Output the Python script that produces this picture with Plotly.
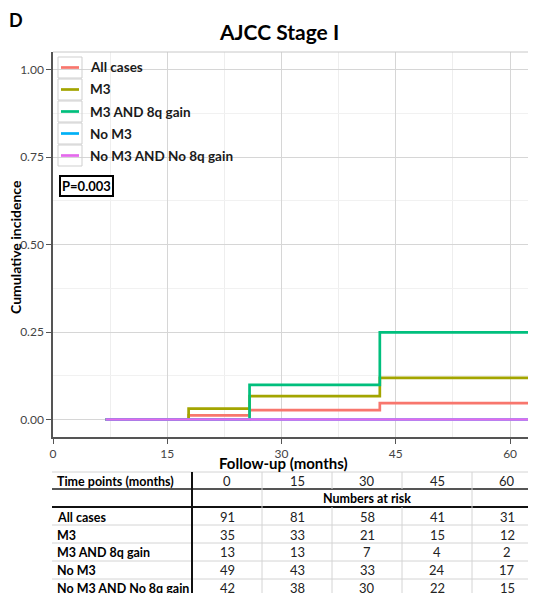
import plotly.graph_objects as go

# ---------------- data ----------------
series_names = ["All cases", "M3", "M3 AND 8q gain", "No M3", "No M3 AND No 8q gain"]
series_colors = ["#F8766D", "#A3A500", "#00BF7D", "#00B0F6", "#E46AEC"]

all_t = [6.9, 17.8, 25.8, 42.9, 62.9, 66.0]
all_y = [0.0, 0.012, 0.027, 0.047, 0.074, 0.074]

m3_t = [6.9, 17.8, 25.8, 42.9, 66.0]
m3_y = [0.0, 0.031, 0.067, 0.119, 0.119]

m3_8q_t = [6.9, 25.8, 42.9, 66.0]
m3_8q_y = [0.0, 0.099, 0.249, 0.249]

nom3_t = [6.9, 62.9, 66.0]
nom3_y = [0.0, 0.057, 0.057]

nom3_no8q_t = [6.9, 66.0]
nom3_no8q_y = [0.0, 0.0]

series_t = [all_t, m3_t, m3_8q_t, nom3_t, nom3_no8q_t]
series_y = [all_y, m3_y, m3_8q_y, nom3_y, nom3_no8q_y]

x_ticks = [0, 15, 30, 45, 60]
y_ticks = [0, 0.25, 0.5, 0.75, 1.0]
y_ticktext = ["0.00", "0.25", "0.50", "0.75", "1.00"]

p_value_text = "P=0.003"

table_timepoints = ["0", "15", "30", "45", "60"]
risk_all = [91, 81, 58, 41, 31]
risk_m3 = [35, 33, 21, 15, 12]
risk_m3_8q = [13, 13, 7, 4, 2]
risk_nom3 = [49, 43, 33, 24, 17]
risk_nom3_no8q = [42, 38, 30, 22, 15]
risk_rows = [risk_all, risk_m3, risk_m3_8q, risk_nom3, risk_nom3_no8q]

# ---------------- layout helpers ----------------
# the page body has an 8px margin, so the figure is placed at (8, 8)
OFF = 8
W, H = 536 - OFF, 593 - OFF
FONT = "Lato"
def px(x):
    return (x - OFF) / W
def py(y):
    return 1 - (y - OFF) / H

fig = go.Figure()
for name, color, t, y in zip(series_names, series_colors, series_t, series_y):
    fig.add_trace(go.Scatter(x=t, y=y, mode="lines", name=name,
                             line=dict(color=color, width=2.7, shape="hv"),
                             showlegend=False, hoverinfo="skip"))

shapes = []
annotations = []

# panel top border
shapes.append(dict(type="line", xref="paper", yref="paper", x0=px(53), x1=px(540),
                   y0=py(52), y1=py(52), line=dict(color="#c8c8c8", width=1)))

# manual legend
leg_rows = [57, 79, 101, 123, 145]
for i, (name, color) in enumerate(zip(series_names, series_colors)):
    top = leg_rows[i]
    bot = top + 21
    shapes.append(dict(type="rect", xref="paper", yref="paper", x0=px(58), x1=px(82),
                       y0=py(bot), y1=py(top), line=dict(color="#cfcfcf", width=1),
                       fillcolor="rgba(255,255,255,0)"))
    yc = (top + bot) / 2
    shapes.append(dict(type="line", xref="paper", yref="paper", x0=px(61), x1=px(79),
                       y0=py(yc), y1=py(yc), line=dict(color=color, width=2.7)))
    annotations.append(dict(xref="paper", yref="paper", x=px(88), y=py(yc), text="<b>%s</b>" % name,
                            showarrow=False, xanchor="left", yanchor="middle",
                            font=dict(family=FONT, size=13.5, color="#1a1a1a")))

# p-value box
annotations.append(dict(xref="paper", yref="paper", x=px(86), y=py(186), text="<b>%s</b>" % p_value_text,
                        showarrow=False, xanchor="center", yanchor="middle",
                        bordercolor="#000000", borderwidth=2, borderpad=1, bgcolor="white",
                        font=dict(family=FONT, size=13, color="#000000")))

# titles
annotations.append(dict(xref="paper", yref="paper", x=px(279), y=py(32), text="<b>AJCC Stage I</b>",
                        showarrow=False, xanchor="center", yanchor="middle",
                        font=dict(family=FONT, size=21, color="#000000")))
annotations.append(dict(xref="paper", yref="paper", x=px(16), y=py(20), text="<b>D</b>",
                        showarrow=False, xanchor="center", yanchor="middle",
                        font=dict(family=FONT, size=18, color="#000000")))
annotations.append(dict(xref="paper", yref="paper", x=px(283), y=py(463), text="<b>Follow-up (months)</b>",
                        showarrow=False, xanchor="center", yanchor="middle",
                        font=dict(family=FONT, size=15, color="#000000")))
annotations.append(dict(xref="paper", yref="paper", x=px(15), y=py(247), text="<b>Cumulative incidence</b>",
                        showarrow=False, xanchor="center", yanchor="middle", textangle=-90,
                        font=dict(family=FONT, size=14, color="#000000")))

# ---------------- risk table ----------------
col_edges = [192, 262, 332, 402, 472, 542]
col_centers = [(col_edges[i] + col_edges[i + 1]) / 2 for i in range(5)]
row_centers = [517, 535, 552, 570, 588]
light = "#d4d4d4"

# horizontal lines
shapes.append(dict(type="line", xref="paper", yref="paper", x0=px(52), x1=px(540),
                   y0=py(472), y1=py(472), line=dict(color=light, width=1)))
shapes.append(dict(type="line", xref="paper", yref="paper", x0=px(52), x1=px(540),
                   y0=py(489), y1=py(489), line=dict(color="#555555", width=1.8)))
shapes.append(dict(type="line", xref="paper", yref="paper", x0=px(52), x1=px(540),
                   y0=py(507), y1=py(507), line=dict(color="#111111", width=2)))
for yl in [525, 543, 561, 579]:
    shapes.append(dict(type="line", xref="paper", yref="paper", x0=px(52), x1=px(540),
                       y0=py(yl), y1=py(yl), line=dict(color=light, width=1)))
# vertical lines
shapes.append(dict(type="line", xref="paper", yref="paper", x0=px(192), x1=px(192),
                   y0=py(472), y1=py(600), line=dict(color="#111111", width=2)))
for xe in [262, 472]:
    shapes.append(dict(type="line", xref="paper", yref="paper", x0=px(xe), x1=px(xe),
                       y0=py(472), y1=py(600), line=dict(color=light, width=1)))
for xe in [332, 402]:
    shapes.append(dict(type="line", xref="paper", yref="paper", x0=px(xe), x1=px(xe),
                       y0=py(472), y1=py(489), line=dict(color=light, width=1)))
    shapes.append(dict(type="line", xref="paper", yref="paper", x0=px(xe), x1=px(xe),
                       y0=py(507), y1=py(600), line=dict(color=light, width=1)))

LBL = 12.5
annotations.append(dict(xref="paper", yref="paper", x=px(55), y=py(481), text="<b>Time points (months)</b>",
                        showarrow=False, xanchor="left", yanchor="middle",
                        font=dict(family=FONT, size=LBL, color="#000000")))
for c, tp in zip(col_centers, table_timepoints):
    annotations.append(dict(xref="paper", yref="paper", x=px(c), y=py(481), text=tp,
                            showarrow=False, xanchor="center", yanchor="middle",
                            font=dict(family=FONT, size=13, color="#222222")))
annotations.append(dict(xref="paper", yref="paper", x=px(367), y=py(498), text="<b>Numbers at risk</b>",
                        showarrow=False, xanchor="center", yanchor="middle",
                        font=dict(family=FONT, size=LBL, color="#000000")))
for rc, name, vals in zip(row_centers, series_names, risk_rows):
    annotations.append(dict(xref="paper", yref="paper", x=px(55), y=py(rc), text="<b>%s</b>" % name,
                            showarrow=False, xanchor="left", yanchor="middle",
                            font=dict(family=FONT, size=LBL, color="#000000")))
    for c, v in zip(col_centers, vals):
        annotations.append(dict(xref="paper", yref="paper", x=px(c), y=py(rc), text=str(v),
                                showarrow=False, xanchor="center", yanchor="middle",
                                font=dict(family=FONT, size=13, color="#222222")))

fig.update_layout(
    width=W, height=H,
    margin=dict(l=0, r=0, t=0, b=0),
    paper_bgcolor="white", plot_bgcolor="white",
    showlegend=False,
    font=dict(family=FONT),
    shapes=shapes, annotations=annotations,
    xaxis=dict(domain=[px(53), 1], range=[0, 63.4], tickvals=x_ticks,
               ticks="outside", ticklen=5, tickcolor="#555555", tickwidth=1.3,
               showline=True, linecolor="#555555", linewidth=1.5,
               showgrid=True, gridcolor="#d6d6d6", gridwidth=1,
               minor=dict(dtick=7.5, showgrid=True, gridcolor="#eeeeee", gridwidth=1),
               zeroline=False, automargin=False,
               tickfont=dict(family=FONT, size=12, color="#444444")),
    yaxis=dict(domain=[py(437), py(52)], range=[-0.05, 1.05], tickvals=y_ticks, ticktext=y_ticktext,
               ticks="outside", ticklen=5, tickcolor="#555555", tickwidth=1.3,
               showline=True, linecolor="#555555", linewidth=1.5,
               showgrid=True, gridcolor="#d6d6d6", gridwidth=1,
               minor=dict(dtick=0.125, showgrid=True, gridcolor="#f1f1f1", gridwidth=1),
               zeroline=False, automargin=False,
               tickfont=dict(family=FONT, size=12, color="#444444")),
)

fig.write_html("out.html")
